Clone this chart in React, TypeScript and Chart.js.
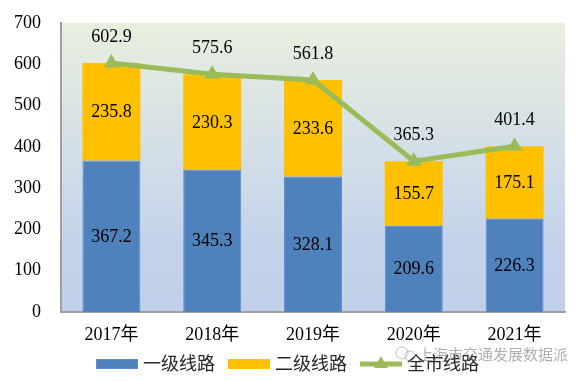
import React, { useEffect, useRef } from "react";
import { Chart, registerables } from "chart.js";

Chart.register(...registerables);

const categories = ["2017年", "2018年", "2019年", "2020年", "2021年"];
const level1 = [367.2, 345.3, 328.1, 209.6, 226.3];
const level2 = [235.8, 230.3, 233.6, 155.7, 175.1];
const total = [602.9, 575.6, 561.8, 365.3, 401.4];
const seriesNames = ["一级线路", "二级线路", "全市线路"];
const yTicks = [0, 100, 200, 300, 400, 500, 600, 700];
const watermark = "上海市交通发展数据派";

const FONT = "'Liberation Serif', 'Noto Sans CJK SC', serif";
const BLUE = "#4F81BD";
const YELLOW = "#FFC000";
const GREEN = "#9BBB59";

function drawTriangle(ctx: CanvasRenderingContext2D, x: number, y: number, r: number) {
  ctx.beginPath();
  ctx.moveTo(x, y - r);
  ctx.lineTo(x + r * 0.866, y + r * 0.5);
  ctx.lineTo(x - r * 0.866, y + r * 0.5);
  ctx.closePath();
  ctx.fill();
}

const bgPlugin = {
  id: "bgPlugin",
  beforeDraw(chart: any) {
    const { ctx, chartArea } = chart;
    const g = ctx.createLinearGradient(0, chartArea.top, 0, chartArea.bottom);
    g.addColorStop(0, "#E9EFDF");
    g.addColorStop(0.45, "#D3DEE7");
    g.addColorStop(0.75, "#C3D3EA");
    g.addColorStop(1, "#C0D0EA");
    ctx.save();
    ctx.fillStyle = g;
    ctx.fillRect(chartArea.left, chartArea.top, chartArea.right - chartArea.left, chartArea.bottom - chartArea.top);
    ctx.restore();
  },
};

const labelPlugin = {
  id: "labelPlugin",
  afterDatasetsDraw(chart: any) {
    const { ctx } = chart;
    ctx.save();
    ctx.font = "18px " + FONT;
    ctx.fillStyle = "#000";
    ctx.textAlign = "center";
    ctx.textBaseline = "middle";
    [0, 1].forEach((di) => {
      const meta = chart.getDatasetMeta(di);
      const data = chart.data.datasets[di].data as number[];
      meta.data.forEach((el: any, i: number) => {
        const cy = (el.y + el.base) / 2;
        ctx.fillText(data[i].toFixed(1), el.x, cy + 1);
      });
    });
    const lmeta = chart.getDatasetMeta(2);
    const ldata = chart.data.datasets[2].data as number[];
    lmeta.data.forEach((el: any, i: number) => {
      ctx.fillText(ldata[i].toFixed(1), el.x, el.y - 26);
    });
    ctx.restore();
  },
};

const legendPlugin = {
  id: "legendPlugin",
  afterDraw(chart: any) {
    const { ctx, width } = chart;
    ctx.save();
    ctx.font = "18px " + FONT;
    ctx.textBaseline = "middle";
    ctx.textAlign = "left";
    const y = 364;
    const boxW = 42;
    const gap = 5;
    const itemGap = 13;
    const widths = seriesNames.map((n) => boxW + gap + ctx.measureText(n).width);
    const totalW = widths.reduce((a, b) => a + b, 0) + itemGap * (seriesNames.length - 1);
    let x = width / 2 - 6 - totalW / 2;
    seriesNames.forEach((name, i) => {
      if (i === 0 || i === 1) {
        ctx.fillStyle = i === 0 ? BLUE : YELLOW;
        ctx.fillRect(x, y - 5, boxW, 10);
        if (i === 0) {
          ctx.strokeStyle = "#5B8FD3";
          ctx.lineWidth = 1;
          ctx.strokeRect(x + 0.5, y - 4.5, boxW - 1, 9);
        }
      } else {
        ctx.strokeStyle = GREEN;
        ctx.lineWidth = 5;
        ctx.beginPath();
        ctx.moveTo(x, y);
        ctx.lineTo(x + boxW, y);
        ctx.stroke();
        ctx.fillStyle = GREEN;
        drawTriangle(ctx, x + boxW / 2, y, 8);
      }
      ctx.fillStyle = "#262626";
      ctx.fillText(name, x + boxW + gap, y + 1);
      x += widths[i] + itemGap;
    });
    // watermark
    ctx.font = "15px 'Noto Sans CJK SC', sans-serif";
    ctx.fillStyle = "rgba(110,110,110,0.55)";
    ctx.fillText(watermark, 418, 354);
    ctx.strokeStyle = "rgba(130,130,130,0.5)";
    ctx.lineWidth = 1;
    ctx.beginPath();
    ctx.arc(402, 353, 6, 0, Math.PI * 2);
    ctx.stroke();
    ctx.beginPath();
    ctx.arc(410, 356, 5, 0, Math.PI * 2);
    ctx.stroke();
    ctx.restore();
  },
};

export default function App() {
  const ref = useRef<HTMLCanvasElement | null>(null);
  useEffect(() => {
    if (!ref.current) return;
    const chart = new Chart(ref.current, {
      type: "bar",
      data: {
        labels: categories,
        datasets: [
          {
            type: "bar",
            label: seriesNames[0],
            data: level1,
            backgroundColor: BLUE,
            borderColor: "#5B8FD3",
            borderWidth: 1,
            stack: "bars",
            order: 1,
            barPercentage: 0.575,
            categoryPercentage: 1,
          },
          {
            type: "bar",
            label: seriesNames[1],
            data: level2,
            backgroundColor: YELLOW,
            borderWidth: 0,
            stack: "bars",
            order: 1,
            barPercentage: 0.575,
            categoryPercentage: 1,
          },
          {
            type: "line",
            label: seriesNames[2],
            data: total,
            borderColor: GREEN,
            backgroundColor: GREEN,
            borderWidth: 5,
            pointStyle: "triangle",
            pointRadius: 9,
            pointBorderWidth: 0,
            pointBackgroundColor: GREEN,
            stack: "total",
            order: 0,
            tension: 0,
          } as any,
        ],
      },
      options: {
        animation: false,
        responsive: true,
        maintainAspectRatio: false,
        layout: { padding: { top: 23, right: 22, bottom: 29, left: 0 } },
        plugins: { legend: { display: false }, tooltip: { enabled: false } },
        scales: {
          x: {
            stacked: true,
            grid: { display: false, drawTicks: false },
            border: { color: "#A0A0A0", width: 2 },
            ticks: { color: "#000", font: { family: FONT, size: 18 }, padding: 12 },
            afterFit: (s: any) => {
              s.height = 40;
              s.paddingLeft = 0;
              s.paddingRight = 0;
            },
          },
          y: {
            stacked: true,
            min: 0,
            max: 700,
            grid: { display: false, drawTicks: false },
            border: { color: "#A0A0A0", width: 2 },
            afterBuildTicks: (s: any) => {
              s.ticks = yTicks.map((v) => ({ value: v }));
            },
            ticks: { color: "#000", font: { family: FONT, size: 18 }, padding: 20 },
            afterFit: (s: any) => {
              s.width = 61;
              s.paddingTop = 0;
              s.paddingBottom = 0;
            },
          },
        },
      },
      plugins: [bgPlugin, labelPlugin, legendPlugin],
    });
    return () => chart.destroy();
  }, []);
  return (
    <div style={{ position: "fixed", left: 0, top: 0, width: 587, height: 381, background: "#fff" }}>
      <canvas ref={ref} />
    </div>
  );
}
